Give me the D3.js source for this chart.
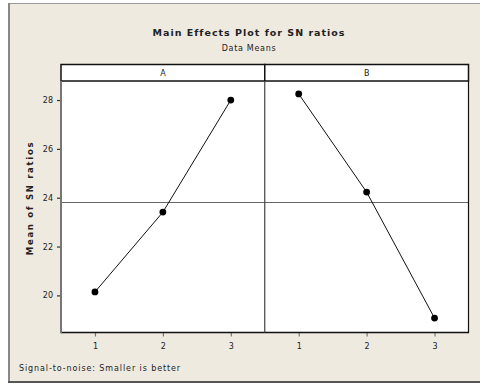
<!DOCTYPE html>
<html>
<head>
<meta charset="utf-8">
<script src="https://cdn.jsdelivr.net/npm/d3@7"></script>
<style>
  html, body { margin: 0; padding: 0; background: #fff; }
  svg { display: block; }
  text { font-family: "DejaVu Sans", Verdana, sans-serif; fill: #222; }
</style>
</head>
<body>
<svg id="chart" width="480" height="385"></svg>
<script>
// Factors and their levels
const factors = ["A", "B"];
const levels = [1, 2, 3];
// Mean SN ratio at each level
const meanA = [20.14, 23.41, 28.0];
const meanB = [28.25, 24.23, 19.07];
const seriesValues = [meanA, meanB];
const yTicks = [20, 22, 24, 26, 28];
const grandMean = 23.84;

const svg = d3.select("#chart");

// Background frame
svg.append("rect").attr("x", 0).attr("y", 0).attr("width", 480).attr("height", 385).attr("fill", "#fff");
svg.append("rect").attr("x", 8).attr("y", 3).attr("width", 474).attr("height", 379)
  .attr("fill", "#EEEAE0");
svg.append("line").attr("x1", 8).attr("x2", 480).attr("y1", 3.5).attr("y2", 3.5)
  .attr("stroke", "#999").attr("stroke-width", 1);
svg.append("line").attr("x1", 9).attr("x2", 9).attr("y1", 3).attr("y2", 383)
  .attr("stroke", "#888").attr("stroke-width", 2);
svg.append("line").attr("x1", 8).attr("x2", 480).attr("y1", 382).attr("y2", 382)
  .attr("stroke", "#555").attr("stroke-width", 2);

// Titles
svg.append("text").attr("x", 249).attr("y", 36).attr("text-anchor", "middle")
  .attr("font-size", 9.5).attr("font-weight", "bold").attr("letter-spacing", 1)
  .text("Main Effects Plot for SN ratios");
svg.append("text").attr("x", 249).attr("y", 51).attr("text-anchor", "middle")
  .attr("font-size", 8).attr("letter-spacing", 0.7)
  .text("Data Means");

// Panel geometry
const plotLeft = 61, plotRight = 468.5, stripTop = 64.5, plotTop = 81, plotBottom = 332.5;
const panelW = (plotRight - plotLeft) / factors.length;

const y = d3.scaleLinear().domain([18.48, 28.78]).range([plotBottom, plotTop]);

factors.forEach((f, i) => {
  const x0 = plotLeft + i * panelW;
  const x = d3.scaleLinear().domain([0.5, 3.5]).range([x0, x0 + panelW]);
  const g = svg.append("g");

  // plot area
  g.append("rect").attr("x", x0).attr("y", plotTop).attr("width", panelW).attr("height", plotBottom - plotTop)
    .attr("fill", "#fff");

  // strip
  g.append("rect").attr("x", x0).attr("y", stripTop).attr("width", panelW).attr("height", plotTop - stripTop)
    .attr("fill", "#fff").attr("stroke", "#111").attr("stroke-width", 1.5);
  g.append("text").attr("x", x0 + panelW / 2).attr("y", (stripTop + plotTop) / 2 + 3)
    .attr("text-anchor", "middle").attr("font-size", 8).text(f);

  // grand mean reference line
  g.append("line").attr("x1", x0).attr("x2", x0 + panelW)
    .attr("y1", Math.round(y(grandMean)) + 0.5).attr("y2", Math.round(y(grandMean)) + 0.5)
    .attr("stroke", "#666").attr("stroke-width", 1);

  // x axis
  const xAxis = d3.axisBottom(x).tickValues(levels).tickSize(4).tickPadding(7).tickFormat(d3.format("d"));
  const ax = g.append("g").attr("transform", `translate(0,${plotBottom})`).call(xAxis);
  ax.select(".domain").remove();
  ax.selectAll(".tick line").attr("stroke", "#777").attr("stroke-width", 1.2);
  ax.selectAll(".tick text").attr("font-size", 8).attr("fill", "#333")
    .attr("font-family", "DejaVu Sans, sans-serif");

  // data line and points
  const pts = levels.map((l, k) => [x(l), y(seriesValues[i][k])]);
  g.append("path").attr("d", d3.line()(pts)).attr("fill", "none")
    .attr("stroke", "#111").attr("stroke-width", 1);
  g.selectAll("circle").data(pts).join("circle")
    .attr("cx", d => d[0]).attr("cy", d => d[1]).attr("r", 3.4).attr("fill", "#000");
});

// Panel borders
svg.append("line").attr("x1", plotLeft).attr("x2", plotRight).attr("y1", plotBottom).attr("y2", plotBottom)
  .attr("stroke", "#111").attr("stroke-width", 1.5);
svg.append("line").attr("x1", plotRight).attr("x2", plotRight).attr("y1", plotTop).attr("y2", plotBottom + 0.75)
  .attr("stroke", "#111").attr("stroke-width", 1.2);
svg.append("line").attr("x1", plotLeft + panelW).attr("x2", plotLeft + panelW).attr("y1", plotTop).attr("y2", plotBottom)
  .attr("stroke", "#444").attr("stroke-width", 1.2);

// y axis
const yAxis = d3.axisLeft(y).tickValues(yTicks).tickSize(4).tickPadding(4);
const ay = svg.append("g").attr("transform", `translate(${plotLeft},0)`).call(yAxis);
ay.select(".domain").remove();
ay.selectAll(".tick line").attr("stroke", "#333").attr("stroke-width", 1.2);
ay.selectAll(".tick text").attr("font-size", 8).attr("fill", "#333")
  .attr("font-family", "DejaVu Sans, sans-serif");
svg.append("line").attr("x1", plotLeft).attr("x2", plotLeft).attr("y1", plotTop).attr("y2", plotBottom + 0.75)
  .attr("stroke", "#777").attr("stroke-width", 2);

// y axis title
svg.append("text").attr("transform", `translate(33,198) rotate(-90)`)
  .attr("text-anchor", "middle").attr("font-size", 8.5).attr("font-weight", "bold")
  .attr("letter-spacing", 1.7).text("Mean of SN ratios");

// footer note
svg.append("text").attr("x", 19).attr("y", 371).attr("font-size", 8)
  .attr("letter-spacing", 0.9).text("Signal-to-noise: Smaller is better");
</script>
</body>
</html>
